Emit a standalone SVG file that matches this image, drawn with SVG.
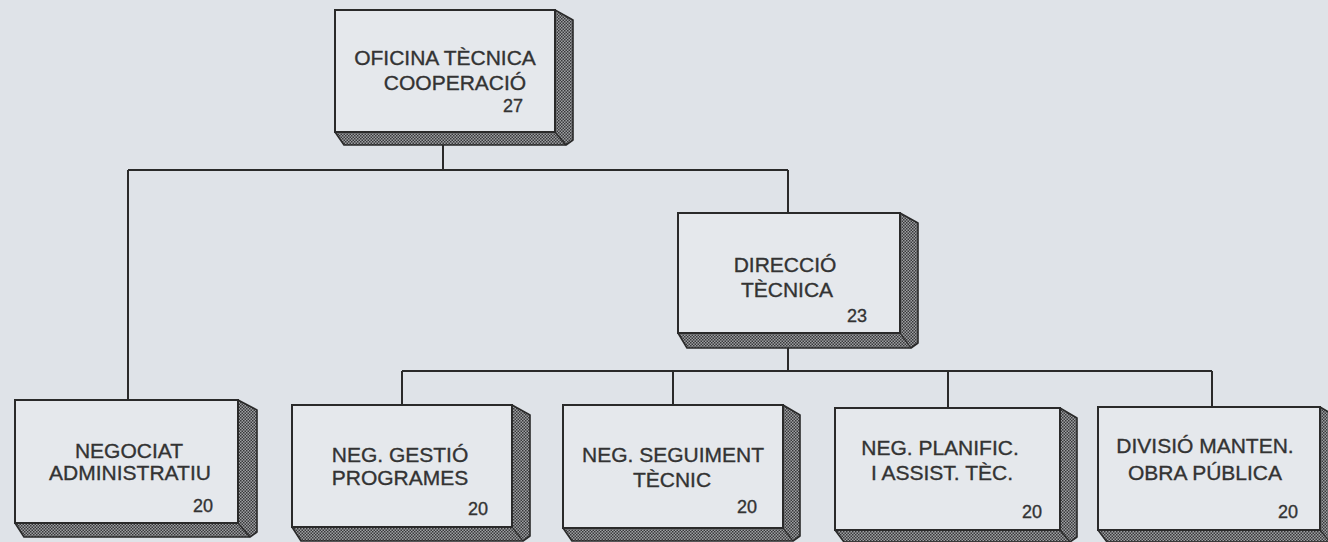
<svg xmlns="http://www.w3.org/2000/svg" width="1328" height="542" viewBox="0 0 1328 542">
<defs>
<pattern id="chk" width="3" height="3" patternUnits="userSpaceOnUse">
<rect width="3" height="3" fill="#9ea0a3"/>
<rect width="1.5" height="1.5" fill="#38383a"/>
<rect x="1.5" y="1.5" width="1.5" height="1.5" fill="#38383a"/>
</pattern>
</defs>
<style>
.bg{fill:#dfe3e8}
.slab{fill:url(#chk);stroke:#2a2a2a;stroke-width:1.6;stroke-linejoin:round}
.face{fill:#e5e8ec;stroke:#2a2a2a;stroke-width:2}
.edge{fill:none;stroke:#2a2a2a;stroke-width:1.2}
.t{font-family:"Liberation Sans",Arial,sans-serif;font-size:21px;fill:#333;stroke:#333;stroke-width:0.35;text-anchor:middle}
.n{font-family:"Liberation Sans",Arial,sans-serif;font-size:18px;fill:#333;stroke:#333;stroke-width:0.35;text-anchor:end}
.c{fill:none;stroke:#2a2a2a;stroke-width:2}
</style>
<rect class="bg" x="0" y="0" width="1328" height="542"/>
<g id="connectors">
<path class="c" d="M443 145V170M128 170H788M128 170V400M788 170V213M788 348V371M402 371H1212M402 371V405M673 371V405M948 371V408M1212 371V407"/>
</g>
<g id="oficina">
<polygon class="slab" points="555,10 573,20 573,140 566,145 344,145 335,132"/>
<path class="edge" d="M555 132L566 145"/>
<rect class="face" x="335" y="10" width="220" height="122"/>
<text class="t" x="445" y="65">OFICINA TÈCNICA</text>
<text class="t" x="455" y="90">COOPERACIÓ</text>
<text class="n" x="523" y="112">27</text>
</g>
<g id="direccio">
<polygon class="slab" points="900,213 918,223 918,343 911,348 687,348 678,333"/>
<path class="edge" d="M900 333L911 348"/>
<rect class="face" x="678" y="213" width="222" height="120"/>
<text class="t" x="785" y="272">DIRECCIÓ</text>
<text class="t" x="787" y="297">TÈCNICA</text>
<text class="n" x="867" y="322">23</text>
</g>
<g id="negociat">
<polygon class="slab" points="238,400 257,410 257,532 250,537 24,537 15,523"/>
<path class="edge" d="M238 523L250 537"/>
<rect class="face" x="15" y="400" width="223" height="123"/>
<text class="t" x="129" y="458">NEGOCIAT</text>
<text class="t" x="130" y="480">ADMINISTRATIU</text>
<text class="n" x="213" y="512">20</text>
</g>
<g id="gestio">
<polygon class="slab" points="512,405 530,415 530,536 523,541 301,541 292,527"/>
<path class="edge" d="M512 527L523 541"/>
<rect class="face" x="292" y="405" width="220" height="122"/>
<text class="t" x="400" y="462">NEG. GESTIÓ</text>
<text class="t" x="400" y="485">PROGRAMES</text>
<text class="n" x="488" y="515">20</text>
</g>
<g id="seguiment">
<polygon class="slab" points="783,405 800,415 800,536 793,541 572,541 563,528"/>
<path class="edge" d="M783 528L793 541"/>
<rect class="face" x="563" y="405" width="220" height="123"/>
<text class="t" x="673" y="462">NEG. SEGUIMENT</text>
<text class="t" x="672" y="487">TÈCNIC</text>
<text class="n" x="757" y="513">20</text>
</g>
<g id="planific">
<polygon class="slab" points="1060,408 1077,418 1077,537 1070,542 844,542 835,530"/>
<path class="edge" d="M1060 530L1070 542"/>
<rect class="face" x="835" y="408" width="225" height="122"/>
<text class="t" x="940" y="455">NEG. PLANIFIC.</text>
<text class="t" x="942" y="480">I ASSIST. TÈC.</text>
<text class="n" x="1042" y="518">20</text>
</g>
<g id="divisio">
<polygon class="slab" points="1320,407 1337,417 1337,537 1330,542 1107,542 1098,530"/>
<path class="edge" d="M1320 530L1330 542"/>
<rect class="face" x="1098" y="407" width="222" height="123"/>
<text class="t" x="1205" y="453">DIVISIÓ MANTEN.</text>
<text class="t" x="1205" y="480">OBRA PÚBLICA</text>
<text class="n" x="1298" y="518">20</text>
</g>
</svg>
